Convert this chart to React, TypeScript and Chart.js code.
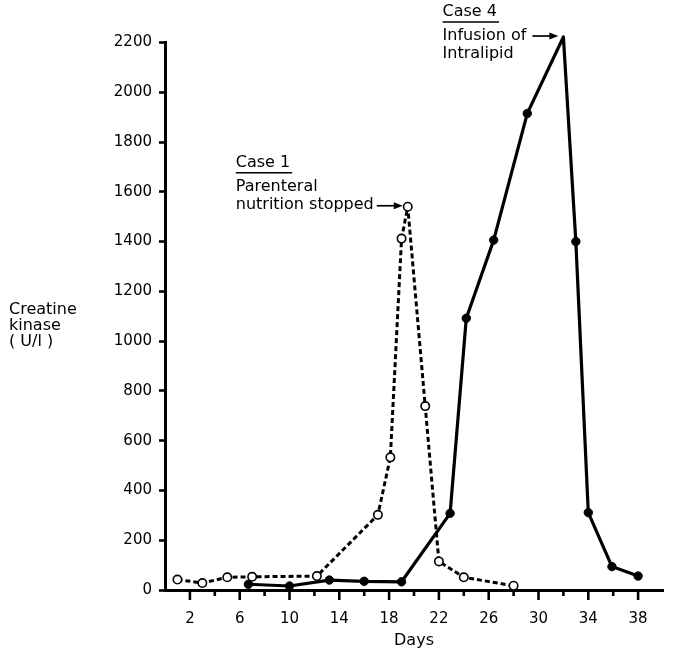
import { useEffect, useRef } from "react";
import { Chart, registerables } from "chart.js";

Chart.register(...registerables);

// ---- Data ----
const case1Days = [1, 3, 5, 7, 12.2, 17.1, 18.1, 19, 19.5, 20.9, 22, 24, 28];
const case1CK = [42, 28, 51, 53, 56, 302, 533, 1412, 1540, 739, 115, 51, 17];
const case1PeakIndex = 8;

const case4Days = [6.7, 10, 13.2, 16, 19, 22.9, 24.2, 26.4, 29.1, 32, 33, 34, 35.9, 38];
const case4CK = [23, 16, 40, 35, 33, 308, 1092, 1406, 1915, 2222, 1400, 311, 94, 56];
const case4PeakIndex = 9;

const yTickValues = [0, 200, 400, 600, 800, 1000, 1200, 1400, 1600, 1800, 2000, 2200];
const xTickDays = [2, 4, 6, 8, 10, 12, 14, 16, 18, 20, 22, 24, 26, 28, 30, 32, 34, 36, 38];
const xLabelledDays = [2, 6, 10, 14, 18, 22, 26, 30, 34, 38];

const yTitleLines = ["Creatine", "kinase", "( U/l )"];
const xTitle = "Days";
const case1Title = "Case 1";
const case1Lines = ["Parenteral", "nutrition stopped"];
const case4Title = "Case 4";
const case4Lines = ["Infusion of", "Intralipid"];

const FONT = '"DejaVu Sans", "Liberation Sans", sans-serif';

function drawArrow(ctx: CanvasRenderingContext2D, x0: number, x1: number, y: number) {
  ctx.beginPath();
  ctx.moveTo(x0, y);
  ctx.lineTo(x1 - 7, y);
  ctx.lineWidth = 1.7;
  ctx.stroke();
  ctx.beginPath();
  ctx.moveTo(x1, y);
  ctx.lineTo(x1 - 9, y - 3.5);
  ctx.lineTo(x1 - 9, y + 3.5);
  ctx.closePath();
  ctx.fill();
}

// arrowOnSecond: whether the arrow sits on the second text line (true) or the first (false)
function drawNote(
  ctx: CanvasRenderingContext2D,
  px: number,
  py: number,
  title: string,
  lines: string[],
  arrowOnSecond: boolean,
  gap: number
) {
  ctx.font = `16px ${FONT}`;
  ctx.textBaseline = "middle";
  ctx.textAlign = "left";
  const arrowTail = px - 31;
  const arrowTip = px - 5;
  const arrowLine = lines[arrowOnSecond ? 1 : 0];
  const arrowLineW = ctx.measureText(arrowLine).width;
  const left = arrowTail - gap - arrowLineW;
  const arrowY = py - 1;
  const y0 = arrowOnSecond ? arrowY - 19 : arrowY;
  ctx.fillText(lines[0], left, y0);
  ctx.fillText(lines[1], left, y0 + 18);
  const titleY = y0 - 24;
  ctx.fillText(title, left, titleY);
  const tw = ctx.measureText(title).width;
  ctx.lineWidth = 1.4;
  ctx.beginPath();
  ctx.moveTo(left, titleY + 10);
  ctx.lineTo(left + tw + 2, titleY + 10);
  ctx.stroke();
  drawArrow(ctx, arrowTail, arrowTip, arrowY);
}

const decorPlugin = {
  id: "decor",
  afterDraw(chart: any) {
    const { ctx, chartArea, scales } = chart;
    const x = scales.x;
    const y = scales.y;
    ctx.save();
    ctx.strokeStyle = "#000";
    ctx.fillStyle = "#000";
    // x tick marks (long at labelled days, short otherwise)
    ctx.lineWidth = 2.6;
    for (const d of xTickDays) {
      const px = x.getPixelForValue(d);
      const len = xLabelledDays.includes(d) ? 10 : 6;
      ctx.beginPath();
      ctx.moveTo(px, chartArea.bottom);
      ctx.lineTo(px, chartArea.bottom + len);
      ctx.stroke();
    }
    // y-axis title, horizontal, three lines
    ctx.font = `16px ${FONT}`;
    ctx.textAlign = "left";
    ctx.textBaseline = "middle";
    const yMid = y.getPixelForValue(1062);
    yTitleLines.forEach((t, i) => ctx.fillText(t, 9, yMid + (i - 1) * 16));

    // Case 1 annotation (arrow on second line)
    const m1 = chart.getDatasetMeta(0).data[case1PeakIndex];
    drawNote(ctx, m1.x, m1.y, case1Title, case1Lines, true, 3);
    // Case 4 annotation (arrow on first line)
    const m4 = chart.getDatasetMeta(1).data[case4PeakIndex];
    drawNote(ctx, m4.x, m4.y, case4Title, case4Lines, false, 6);
    ctx.restore();
  },
};

export default function App() {
  const ref = useRef<HTMLCanvasElement | null>(null);
  useEffect(() => {
    if (!ref.current) return;
    const chart = new Chart(ref.current, {
      type: "line",
      data: {
        datasets: [
          {
            label: "Case 1",
            data: case1Days.map((d, i) => ({ x: d, y: case1CK[i] })),
            borderColor: "#000",
            borderWidth: 3,
            borderDash: [5, 3],
            borderJoinStyle: "round",
            pointRadius: 4.2,
            pointBorderWidth: 1.6,
            pointBackgroundColor: "#fff",
            pointBorderColor: "#000",
            tension: 0,
            clip: false as any,
          },
          {
            label: "Case 4",
            data: case4Days.map((d, i) => ({ x: d, y: case4CK[i] })),
            borderColor: "#000",
            borderWidth: 3.2,
            borderJoinStyle: "round",
            pointRadius: 4.2,
            pointBorderWidth: 1,
            pointBackgroundColor: "#000",
            pointBorderColor: "#000",
            tension: 0,
            clip: false as any,
          },
        ],
      },
      options: {
        animation: false,
        responsive: false,
        events: [],
        layout: { padding: { left: 0, right: 18, top: 42.5, bottom: 0 } },
        plugins: {
          legend: { display: false },
          tooltip: { enabled: false },
        },
        scales: {
          x: {
            type: "linear",
            min: 0,
            max: 40,
            afterFit: (s: any) => {
              s.height = 58;
            },
            afterBuildTicks: (s: any) => {
              s.ticks = xTickDays.map((v) => ({ value: v }));
            },
            grid: { display: true, drawOnChartArea: false, drawTicks: false, color: "#000" },
            border: { display: true, color: "#000", width: 3 },
            ticks: {
              padding: 20,
              color: "#000",
              font: { family: FONT, size: 15 },
              autoSkip: false,
              maxRotation: 0,
              callback: (v: any) => (xLabelledDays.includes(Number(v)) ? String(v) : ""),
            },
            title: {
              display: true,
              text: xTitle,
              color: "#000",
              font: { family: FONT, size: 16 },
              padding: { top: 0, bottom: -2 },
            },
          },
          y: {
            type: "linear",
            min: 0,
            max: 2200,
            afterFit: (s: any) => {
              s.width = 165;
            },
            afterBuildTicks: (s: any) => {
              s.ticks = yTickValues.map((v) => ({ value: v }));
            },
            grid: {
              display: true,
              drawOnChartArea: false,
              drawTicks: true,
              tickLength: 6,
              tickWidth: 2.6,
              color: "#000",
            },
            border: { display: true, color: "#000", width: 3 },
            ticks: {
              padding: 7,
              color: "#000",
              font: { family: FONT, size: 15 },
              autoSkip: false,
              callback: (v: any) => String(v),
            },
          },
        },
      },
      plugins: [decorPlugin],
    });
    return () => chart.destroy();
  }, []);
  return (
    <div style={{ position: "fixed", left: 0, top: 0, width: 681, height: 648, background: "#fff" }}>
      <canvas ref={ref} width={681} height={648} style={{ display: "block" }} />
    </div>
  );
}
